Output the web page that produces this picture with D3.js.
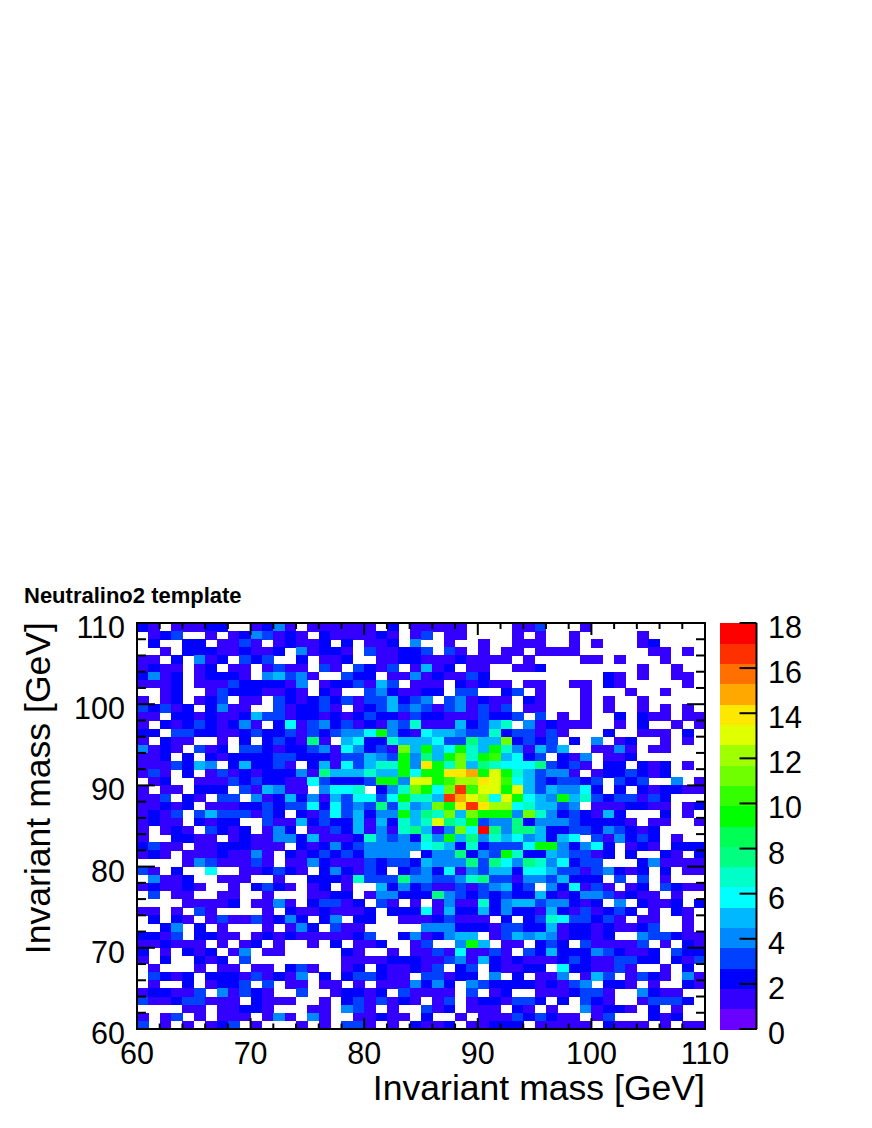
<!DOCTYPE html>
<html><head><meta charset="utf-8">
<script src="https://cdn.jsdelivr.net/npm/d3@7"></script>
<style>html,body{margin:0;padding:0;background:#fff}svg{display:block}text{font-family:"Liberation Sans",Arial,sans-serif;fill:#000}</style>
</head><body><div id="chart"></div>
<script>
const xEdges=[60,110], yEdges=[60,110], zRange=[0,18], binCount=50;
const palette=["#6a00ff","#3300ff","#0000ff","#0040ff","#0088ff","#00b8ff","#00ffff","#00ffc8","#00ff80","#00ff55","#00ff00","#33ff00","#70ff00","#a0ff00","#e0ff00","#ffe800","#ffa800","#ff7000","#ff3000","#ff0000"];
const xTicks=[60,70,80,90,100,110], yTicks=[60,70,80,90,100,110], zTicks=[0,2,4,6,8,10,12,14,16,18];
const xMinor=[62,64,66,68,72,74,76,78,82,84,86,88,92,94,96,98,102,104,106,108];
const titleText="Neutralino2 template", axisLabel="Invariant mass [GeV]";
// counts per bin, top row (y=110) first, left to right
const counts=[
[2,1,0,1,1,1,2,2,0,0,1,2,4,1,0,1,1,1,1,1,1,0,2,0,1,1,1,1,1,0,0,0,0,1,1,3,0,0,0,1,0,0,0,0,0,0,0,0,0,0],
[0,1,2,3,0,0,1,0,1,2,4,3,1,2,1,0,2,1,1,1,1,2,1,0,1,3,0,1,1,0,0,0,0,1,0,1,0,0,1,0,0,0,0,0,1,0,0,0,0,0],
[0,2,0,0,2,2,0,1,1,3,1,0,1,2,1,1,2,0,2,0,1,1,2,0,4,0,0,1,0,0,1,0,0,1,1,1,0,0,1,0,1,0,0,0,1,2,0,0,0,0],
[0,0,1,0,2,2,2,1,1,2,1,1,2,0,4,1,2,2,1,0,3,1,1,2,2,3,0,3,1,0,1,0,1,1,0,1,1,1,1,0,0,0,0,0,0,1,1,0,1,0],
[1,1,0,2,0,4,1,2,0,3,2,3,0,0,2,0,1,1,2,0,0,1,1,2,2,1,1,1,2,1,1,1,1,0,1,0,0,0,0,1,1,0,1,0,0,0,1,0,0,0],
[1,2,1,1,0,1,2,0,1,1,0,1,3,1,1,0,3,1,0,3,2,1,3,0,1,5,1,2,0,1,1,0,0,1,1,2,0,0,0,0,0,0,0,0,1,0,0,1,0,0],
[2,4,1,2,0,1,2,2,2,1,0,4,5,3,4,1,0,0,3,2,2,0,1,1,4,1,2,1,1,3,2,0,0,0,0,0,0,0,0,0,0,2,1,0,1,0,0,1,1,0],
[1,1,1,2,0,1,1,1,3,2,2,2,2,1,4,0,1,2,2,3,1,5,3,0,1,1,1,0,2,1,2,1,1,0,1,1,0,0,1,1,0,2,1,0,0,0,0,0,1,0],
[0,0,1,2,0,0,1,3,2,2,2,1,1,2,1,0,2,1,0,0,3,4,2,1,1,2,2,0,3,3,0,0,2,3,0,1,0,0,0,1,0,0,0,1,0,0,1,0,0,0],
[1,0,1,2,0,1,2,3,0,1,1,0,3,2,1,2,3,2,3,1,3,3,5,2,3,4,0,3,4,1,2,1,1,0,2,1,0,0,0,1,0,1,0,0,1,0,0,0,0,0],
[3,2,3,1,2,0,2,4,1,1,0,0,3,1,2,2,3,1,0,1,2,3,5,3,4,3,1,3,4,1,3,1,3,0,1,1,0,0,0,1,0,1,0,0,1,0,1,0,1,0],
[1,1,0,2,2,1,2,1,1,2,5,3,3,1,2,2,1,2,1,2,3,2,2,1,3,2,2,1,1,1,3,2,2,3,0,3,0,1,0,1,0,0,2,0,2,1,1,0,1,1],
[1,0,2,1,2,3,2,1,2,4,1,0,2,6,1,3,4,2,3,1,2,1,4,3,7,1,1,1,5,2,3,5,7,0,4,1,2,1,1,1,0,0,1,0,2,0,0,1,0,1],
[2,2,0,3,3,2,2,1,1,2,3,2,2,3,1,3,2,3,4,4,6,9,4,2,1,6,5,5,4,3,3,7,2,3,3,1,3,1,0,0,0,2,0,0,1,1,1,0,2,0],
[1,0,2,1,1,0,0,1,0,2,0,2,3,2,1,8,1,0,5,6,2,2,7,5,5,5,6,3,3,8,5,5,11,2,3,2,3,0,2,0,4,0,1,2,0,0,1,0,1,0],
[4,1,2,1,0,3,1,2,0,3,3,2,1,2,2,3,4,1,6,4,2,3,1,11,5,9,5,6,9,7,5,9,7,4,1,5,3,5,0,0,1,1,4,1,0,1,1,0,0,0],
[1,1,2,0,2,0,2,1,2,2,2,2,3,3,2,2,2,1,3,3,5,4,3,9,4,8,5,9,11,7,9,10,5,6,2,3,0,2,1,4,0,1,1,2,0,0,0,0,0,0],
[1,1,1,3,2,5,4,0,2,5,2,2,3,1,0,2,5,1,6,3,5,7,7,9,4,14,9,7,11,5,8,7,6,6,6,8,3,2,3,1,0,2,2,0,2,1,2,0,1,0],
[1,3,1,0,2,0,1,3,1,2,1,2,2,2,4,1,8,5,5,5,7,5,5,9,6,9,9,14,14,15,9,13,9,7,5,3,4,4,1,0,1,2,2,3,2,1,2,0,0,0],
[0,1,2,0,0,1,1,1,3,2,3,2,2,1,1,6,3,2,2,2,3,9,9,4,13,13,9,10,12,12,14,13,10,6,5,3,2,3,3,2,3,0,3,2,3,0,0,4,0,1],
[1,0,1,1,0,2,2,2,0,3,1,5,4,1,1,0,4,6,6,7,0,2,4,7,11,9,6,11,17,10,13,13,9,13,5,3,5,4,4,6,2,0,2,0,2,1,2,2,1,1],
[1,1,3,0,2,1,0,3,3,0,4,1,2,5,2,4,1,5,3,6,6,3,6,9,7,7,5,17,15,13,12,6,13,9,6,5,4,9,5,7,3,2,3,3,1,3,2,0,0,0],
[1,1,2,1,2,0,1,1,1,2,2,3,2,3,3,6,2,6,3,4,3,8,3,7,4,5,11,9,14,17,14,12,12,6,7,5,5,3,4,0,1,1,1,2,2,1,1,0,1,2],
[1,2,1,3,0,3,5,3,3,3,1,3,2,0,2,1,3,6,3,5,2,4,4,9,5,8,7,11,5,11,9,9,9,4,11,7,4,2,3,2,1,5,2,0,0,0,2,0,1,0],
[1,2,1,1,0,2,1,2,2,0,0,3,1,1,5,2,3,2,2,5,1,5,2,7,5,7,13,8,7,9,3,4,4,8,2,4,4,4,3,2,2,2,2,1,0,1,1,0,0,1],
[1,0,1,2,1,0,3,2,1,2,0,1,4,2,0,1,1,3,2,5,1,4,1,7,8,5,1,4,11,6,18,8,4,8,8,5,2,2,3,3,2,4,3,2,1,2,0,0,0,0],
[1,0,0,2,2,1,1,0,1,2,1,1,4,4,2,5,1,1,1,2,7,4,3,4,2,7,4,9,5,8,4,7,5,6,4,5,2,5,6,0,3,1,4,2,3,2,0,1,0,0],
[2,3,1,1,0,1,1,2,2,2,1,1,1,0,2,1,2,4,2,3,4,4,4,4,4,6,7,5,2,7,2,3,3,3,6,9,9,4,2,4,6,2,0,1,2,1,0,2,2,2],
[1,2,1,0,1,1,1,2,1,1,4,1,0,2,1,2,3,2,3,2,4,4,4,4,0,2,4,4,8,2,4,3,9,7,2,2,5,4,3,3,1,2,0,2,0,0,2,1,0,2],
[0,0,0,0,1,4,3,1,1,1,3,1,0,1,1,4,2,1,1,1,3,2,3,3,2,5,4,4,4,8,3,8,6,4,8,7,4,6,2,3,3,0,0,0,2,4,1,1,1,1],
[3,1,0,2,0,0,6,0,0,1,1,2,3,2,1,0,2,4,2,1,3,2,0,2,3,4,2,6,1,4,3,5,5,2,6,6,5,3,3,1,3,4,2,1,2,0,2,0,1,1],
[0,4,1,1,2,0,0,1,1,1,0,0,1,0,0,2,2,2,1,7,3,3,3,8,4,4,3,3,4,7,8,3,3,1,4,4,3,5,2,2,2,0,3,0,3,0,1,0,0,0],
[1,2,1,1,2,1,0,0,1,0,2,3,2,1,0,1,2,0,1,0,0,5,2,4,2,3,1,1,3,1,3,4,5,2,3,0,4,2,6,1,3,1,0,1,2,0,3,2,1,1],
[0,3,0,1,1,0,0,1,1,0,0,1,0,0,0,1,1,2,2,0,1,4,4,2,2,2,8,4,3,2,3,2,3,2,2,5,2,1,2,4,4,3,1,2,1,1,0,1,0,0],
[0,0,0,0,1,1,1,1,2,0,1,1,4,1,0,2,3,3,1,2,0,3,1,0,1,0,1,4,1,1,7,2,4,5,5,3,4,4,2,1,2,0,4,0,2,1,1,2,0,2],
[1,1,0,1,0,3,1,0,0,0,0,1,0,2,1,1,2,1,1,1,2,0,2,2,2,6,1,5,2,2,5,2,4,2,2,1,5,2,1,3,1,2,3,2,0,1,0,2,1,0],
[0,2,0,2,1,0,1,3,1,1,3,1,2,4,2,0,2,4,0,2,2,0,0,1,1,1,2,3,1,1,1,0,2,0,2,3,7,6,3,3,2,3,1,0,1,1,0,0,1,0],
[0,0,2,4,0,2,0,1,0,0,0,1,0,1,4,2,0,3,1,1,0,0,0,0,0,4,4,4,2,2,2,1,3,3,2,2,5,1,2,2,1,2,1,1,2,3,0,0,1,0],
[2,2,1,3,0,2,2,1,1,0,1,2,1,2,1,1,1,1,1,2,3,0,0,2,4,1,2,4,5,5,0,1,3,5,4,5,4,1,2,2,1,2,0,0,4,3,3,2,1,1],
[1,1,2,1,1,1,0,1,0,1,2,0,1,0,0,1,0,2,0,1,1,2,0,0,1,3,0,0,4,9,5,0,1,1,0,2,3,2,0,3,1,1,1,1,3,0,1,0,2,1],
[2,0,1,0,2,1,2,0,1,4,0,1,1,0,0,0,0,0,2,1,0,0,1,0,1,1,3,1,6,1,1,3,1,0,3,2,5,2,2,2,4,3,2,1,1,2,0,3,2,2],
[1,0,2,0,0,2,1,2,0,3,0,0,0,0,0,0,0,0,1,1,1,1,2,2,2,1,1,3,4,1,5,2,1,2,1,1,1,2,3,2,1,1,3,3,2,2,0,2,1,3],
[0,1,0,0,0,1,0,1,1,0,1,1,0,2,3,1,0,0,1,2,0,2,1,1,2,1,3,0,2,3,0,2,1,1,2,2,0,6,2,2,1,1,3,1,0,0,1,0,2,0],
[0,3,2,1,2,0,2,2,2,1,3,1,2,1,4,0,2,0,2,3,3,2,1,1,0,3,3,1,2,2,0,4,0,2,0,1,1,4,0,1,5,3,0,1,3,2,1,0,4,1],
[0,1,0,0,2,0,1,2,2,3,0,3,0,1,1,0,1,1,0,1,0,1,1,1,4,2,4,2,0,4,3,2,2,2,2,1,2,1,3,4,0,2,2,1,0,1,0,0,2,1],
[1,2,2,1,1,3,0,4,1,3,2,1,0,0,3,0,0,1,2,2,1,2,0,3,1,1,1,1,0,3,0,1,2,0,0,1,1,1,2,3,3,1,0,0,4,2,1,1,0,0],
[3,1,1,2,3,3,1,1,1,0,2,1,1,1,0,0,1,0,2,3,1,3,1,2,1,0,1,3,0,1,2,2,1,3,3,2,0,2,0,3,2,1,0,0,1,3,3,3,2,0],
[0,0,0,0,1,1,0,1,1,2,2,1,0,0,0,1,1,0,4,3,1,0,1,0,0,3,1,2,0,1,1,1,0,2,1,0,1,0,0,4,1,2,2,1,0,2,0,1,0,0],
[1,0,1,3,0,1,0,1,1,1,0,1,4,1,0,4,1,0,0,1,1,2,1,1,0,2,0,0,1,0,1,1,1,3,2,3,2,1,1,0,1,3,0,0,0,2,1,2,0,0],
[3,0,1,0,1,0,1,2,3,0,1,0,0,0,1,0,1,0,3,3,1,0,1,0,2,1,1,2,0,1,1,2,2,2,0,1,1,1,1,1,0,2,1,1,1,0,1,0,1,1]
];
const M={l:137,r:705,t:623,b:1029}, W=872, H=1128;
const svg=d3.select("#chart").append("svg").attr("width",W).attr("height",H);
const x=d3.scaleLinear().domain(xEdges).range([M.l,M.r]);
const y=d3.scaleLinear().domain(yEdges).range([M.b,M.t]);
const z=d3.scaleLinear().domain(zRange).range([M.b,M.t]);
const colour=d3.scaleQuantize().domain(zRange).range(palette);
const step=(xEdges[1]-xEdges[0])/binCount;
const cells=counts.flatMap((row,j)=>row.map((v,i)=>({i,j,v}))).filter(d=>d.v>0);
svg.append("g").attr("shape-rendering","crispEdges").selectAll("rect").data(cells).join("rect")
  .attr("x",d=>x(xEdges[0]+d.i*step)).attr("y",d=>y(yEdges[1]-d.j*step))
  .attr("width",x(step)-x(0)+.4).attr("height",y(0)-y(step)+.4)
  .attr("fill",d=>colour(d.v));
svg.append("rect").attr("x",M.l).attr("y",M.t).attr("width",M.r-M.l).attr("height",M.b-M.t).attr("fill","none").attr("stroke","#000").attr("stroke-width",2);
function ticks(vals,len,axis,sel,scale){
  const g=svg.append("g").attr("stroke","#000").attr("stroke-width",2);
  g.selectAll("line").data(vals).join("line").each(function(v){
    const s=d3.select(this), p=scale(v);
    if(axis==="x") s.attr("x1",p).attr("x2",p).attr("y1",sel).attr("y2",sel+len);
    else s.attr("y1",p).attr("y2",p).attr("x1",sel).attr("x2",sel+len);
  });
}
ticks(xTicks,-11,"x",M.b,x); ticks(xMinor,-5.5,"x",M.b,x);
ticks(xTicks,12,"x",M.t,x); ticks(xMinor,6,"x",M.t,x);
ticks(yTicks,18,"y",M.l,y); ticks(xMinor,9,"y",M.l,y);
ticks(yTicks,-18,"y",M.r,y); ticks(xMinor,-9,"y",M.r,y);
const FS=30.5;
svg.append("g").selectAll("text").data(xTicks).join("text").attr("x",d=>x(d)).attr("y",1064).attr("text-anchor","middle").attr("font-size",FS).text(d=>d);
svg.append("g").selectAll("text").data(yTicks).join("text").attr("x",125).attr("y",d=>y(d)+15).attr("text-anchor","end").attr("font-size",FS).text(d=>d);
const zStep=(zRange[1]-zRange[0])/palette.length;
svg.append("g").attr("shape-rendering","crispEdges").selectAll("rect").data(palette).join("rect")
  .attr("x",719.5).attr("width",37).attr("y",(d,i)=>z(zRange[0]+(i+1)*zStep)).attr("height",z(0)-z(zStep)+.5).attr("fill",d=>d);
svg.append("line").attr("x1",756.5).attr("x2",756.5).attr("y1",M.t).attr("y2",M.b).attr("stroke","#000").attr("stroke-width",2);
ticks(zTicks,-17,"y",756.5,z);
svg.append("g").selectAll("text").data(zTicks).join("text").attr("x",768).attr("y",d=>z(d)+15).attr("font-size",FS).text(d=>d);
svg.append("text").attr("x",705).attr("y",1100).attr("text-anchor","end").attr("font-size",35.6).text(axisLabel);
svg.append("text").attr("transform","translate(49.5,622) rotate(-90)").attr("text-anchor","end").attr("font-size",35.6).text(axisLabel);
svg.append("text").attr("x",24).attr("y",603).attr("font-size",22).attr("font-weight","bold").text(titleText);
</script></body></html>
